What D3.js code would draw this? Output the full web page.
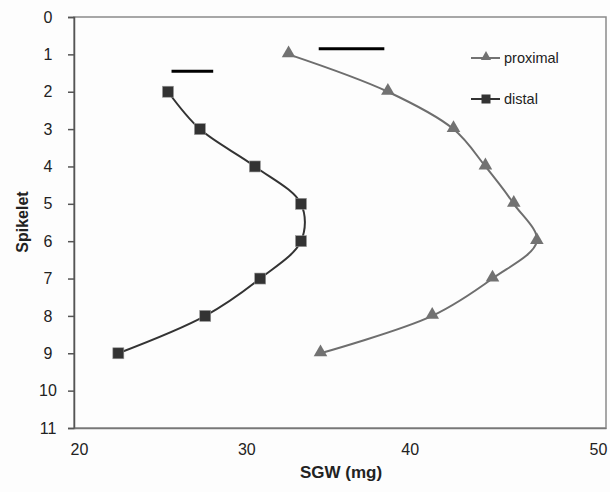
<!DOCTYPE html>
<html>
<head>
<meta charset="utf-8">
<script src="https://cdn.jsdelivr.net/npm/d3@7"></script>
<style>
  body { margin: 0; background: #fdfdfd; }
  svg { font-family: "Liberation Sans", Arial, sans-serif; }
</style>
</head>
<body>
<div id="chart"></div>
<script>
// ---- data ----
var spikelets = [1, 2, 3, 4, 5, 6, 7, 8, 9];
var proximal = [32.1, 37.7, 41.4, 43.2, 44.8, 46.1, 43.6, 40.2, 33.9];
var distalSpikelets = [2, 3, 4, 5, 6, 7, 8, 9];
var distal = [25.3, 27.1, 30.2, 32.8, 32.8, 30.5, 27.4, 22.5];
// horizontal bars (x from, x to, spikelet position)
var barFrom = [25.5, 33.8];
var barTo = [27.85, 37.5];
var barY = [1.45, 0.85];
var xTicks = [20, 30, 40, 50];
var yTicks = [0, 1, 2, 3, 4, 5, 6, 7, 8, 9, 10, 11];

// ---- layout ----
var width = 610, height = 492;
var plotLeft = 74, plotRight = 606, plotTop = 17, plotBottom = 428;

var svg = d3.select('#chart').append('svg')
    .attr('width', width)
    .attr('height', height);

var x = d3.scaleLinear().domain([20, 50]).range([plotLeft, plotRight]);
var y = d3.scaleLinear().domain([0, 11]).range([plotTop, plotBottom]);

// plot frame
svg.append('rect')
    .attr('x', plotLeft).attr('y', plotTop)
    .attr('width', plotRight - plotLeft).attr('height', plotBottom - plotTop)
    .attr('fill', 'none').attr('stroke', '#8a8a8a').attr('stroke-width', 1.5);

// y axis
var yAxis = svg.append('g')
    .attr('transform', 'translate(' + plotLeft + ',0)')
    .call(d3.axisLeft(y).tickValues(yTicks).tickSize(6).tickPadding(10));
yAxis.select('.domain').attr('stroke', '#555').attr('stroke-width', 1.5);
yAxis.selectAll('.tick line').attr('stroke', '#555').attr('stroke-width', 1.5);
yAxis.selectAll('.tick text')
    .attr('font-size', 16).attr('fill', '#222')
    .attr('text-anchor', 'middle').attr('x', -26);

// x axis (no tick marks)
var xAxis = svg.append('g')
    .attr('transform', 'translate(0,' + plotBottom + ')')
    .call(d3.axisBottom(x).tickValues(xTicks).tickSize(0).tickPadding(16));
xAxis.select('.domain').attr('stroke', '#777').attr('stroke-width', 1.5);
var xNudge = { 20: 5, 30: -5, 40: -19, 50: -8 };
xAxis.selectAll('.tick text')
    .attr('font-size', 16).attr('fill', '#222')
    .attr('dx', function(d) { return xNudge[d]; });

// axis titles
svg.append('text')
    .attr('x', 341).attr('y', 478)
    .attr('text-anchor', 'middle')
    .attr('font-size', 17).attr('font-weight', 'bold').attr('fill', '#222')
    .text('SGW (mg)');
svg.append('text')
    .attr('transform', 'translate(28,222) rotate(-90)')
    .attr('text-anchor', 'middle')
    .attr('font-size', 16).attr('font-weight', 'bold').attr('fill', '#222')
    .text('Spikelet');

// lines
var line = d3.line()
    .x(function(d) { return x(d[0]); })
    .y(function(d) { return y(d[1]); })
    .curve(d3.curveCatmullRom.alpha(0.5));

var proxData = proximal.map(function(v, i) { return [v, spikelets[i]]; });
var distData = distal.map(function(v, i) { return [v, distalSpikelets[i]]; });

svg.append('path').datum(proxData)
    .attr('d', line).attr('fill', 'none')
    .attr('stroke', '#6e6e6e').attr('stroke-width', 2);
svg.append('path').datum(distData)
    .attr('d', line).attr('fill', 'none')
    .attr('stroke', '#333').attr('stroke-width', 2);

var tri = d3.symbol().type(d3.symbolTriangle).size(80);

svg.selectAll('.tri').data(proxData).enter()
    .append('path').attr('class', 'tri')
    .attr('transform', function(d) { return 'translate(' + x(d[0]) + ',' + (y(d[1]) - 1) + ')'; })
    .attr('d', tri)
    .attr('fill', '#727272');

svg.selectAll('.sq').data(distData).enter()
    .append('rect').attr('class', 'sq')
    .attr('x', function(d) { return x(d[0]) - 5.5; })
    .attr('y', function(d) { return y(d[1]) - 5.5; })
    .attr('width', 11).attr('height', 11)
    .attr('fill', '#333').attr('stroke', '#999').attr('stroke-width', 0.6);

// bars
svg.selectAll('.bar').data(barFrom).enter()
    .append('line').attr('class', 'bar')
    .attr('x1', function(d) { return x(d); })
    .attr('x2', function(d, i) { return x(barTo[i]); })
    .attr('y1', function(d, i) { return y(barY[i]); })
    .attr('y2', function(d, i) { return y(barY[i]); })
    .attr('stroke', '#000').attr('stroke-width', 3);

// legend
var legendItems = [
  { name: 'proximal', y: 58, color: '#727272', shape: 'tri' },
  { name: 'distal', y: 99, color: '#333', shape: 'sq' }
];
var legend = svg.selectAll('.legend').data(legendItems).enter()
    .append('g').attr('class', 'legend')
    .attr('transform', function(d) { return 'translate(471,' + d.y + ')'; });
legend.append('line')
    .attr('x1', 0).attr('x2', 29).attr('y1', 0).attr('y2', 0)
    .attr('stroke', function(d) { return d.color; }).attr('stroke-width', 2);
legend.filter(function(d) { return d.shape === 'tri'; })
    .append('path').attr('d', d3.symbol().type(d3.symbolTriangle).size(45))
    .attr('transform', 'translate(15,-1)')
    .attr('fill', function(d) { return d.color; });
legend.filter(function(d) { return d.shape === 'sq'; })
    .append('rect').attr('x', 10.5).attr('y', -4.5).attr('width', 9).attr('height', 9)
    .attr('fill', function(d) { return d.color; });
legend.append('text')
    .attr('x', 33).attr('y', 5)
    .attr('font-size', 14.5).attr('fill', '#222')
    .text(function(d) { return d.name; });
</script>
</body>
</html>
